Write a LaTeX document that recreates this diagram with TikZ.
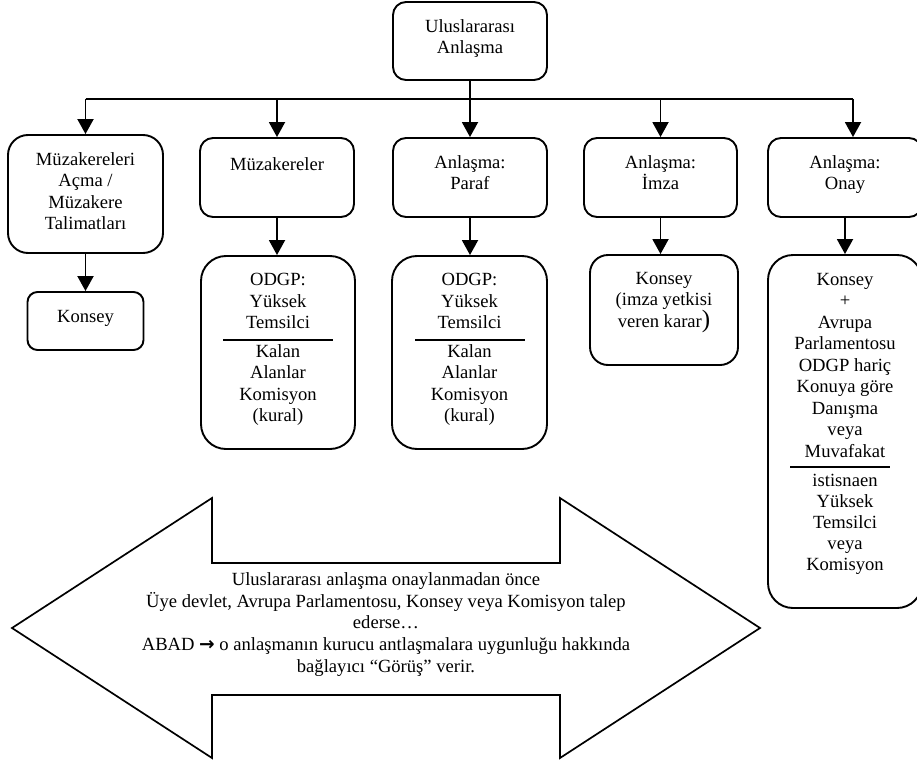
\documentclass[tikz,border=0pt]{standalone}
\usepackage{fontspec}
\setmainfont{Liberation Serif}
\newfontfamily\symf{DejaVu Sans}
\usetikzlibrary{arrows.meta}
\begin{document}
\begin{tikzpicture}[x=1pt,y=-1pt,
  box/.style={draw,line width=1.9pt,rectangle,inner sep=0pt},
  txt/.style={font=\fontsize{18.6}{21.5}\selectfont,align=center,inner sep=0pt,anchor=north,execute at begin node=\rule{0pt}{15pt}},
  conn/.style={line width=1.9pt},
  arr/.style={conn,-{Triangle[width=16pt,length=15pt]}}]
\useasboundingbox (0,0) rectangle (917,765);
\clip (0,0) rectangle (917,765);
% boxes
\node[box,rounded corners=13pt,minimum width=154pt,minimum height=78pt] (top) at (470,41) {};
\node[box,rounded corners=20pt,minimum width=155pt,minimum height=118pt] (r1a) at (85.5,194) {};
\node[box,rounded corners=13pt,minimum width=154pt,minimum height=79pt] (r1b) at (277,177.5) {};
\node[box,rounded corners=13pt,minimum width=154pt,minimum height=79pt] (r1c) at (470,177.5) {};
\node[box,rounded corners=13pt,minimum width=153pt,minimum height=79pt] (r1d) at (660.5,177.5) {};
\node[box,rounded corners=13pt,minimum width=154pt,minimum height=79pt] (r1e) at (845,177.5) {};
\node[box,rounded corners=10pt,minimum width=116pt,minimum height=58pt] (r2a) at (85.5,321) {};
\node[box,rounded corners=25pt,minimum width=154pt,minimum height=193pt] (r2b) at (278,352.5) {};
\node[box,rounded corners=25pt,minimum width=155pt,minimum height=193pt] (r2c) at (469.5,352.5) {};
\node[box,rounded corners=18pt,minimum width=148pt,minimum height=110pt] (r2d) at (664,310) {};
\node[box,rounded corners=25pt,minimum width=154pt,minimum height=353pt] (r2e) at (845,431.5) {};
% texts
\node[txt] (ttop) at (470,19) {Uluslararası\\Anlaşma};
\node[txt] (t1a) at (85.5,152) {Müzakereleri\\Açma /\\Müzakere\\Talimatları};
\node[txt] (t1b) at (277,155) {Müzakereler};
\node[txt] (t1c) at (470,155) {Anlaşma:\\Paraf};
\node[txt] (t1d) at (660.5,155) {Anlaşma:\\İmza};
\node[txt] (t1e) at (845,155) {Anlaşma:\\Onay};
\node[txt] (t2a) at (85.5,307) {Konsey};
\node[txt] (t2b1) at (278,273) {ODGP:\\Yüksek\\Temsilci};
\node[txt] (t2b2) at (278,344) {Kalan\\Alanlar\\Komisyon\\(kural)};
\node[txt] (t2c1) at (469.5,273) {ODGP:\\Yüksek\\Temsilci};
\node[txt] (t2c2) at (469.5,344) {Kalan\\Alanlar\\Komisyon\\(kural)};
\node[txt] (t2d) at (664,272) {Konsey\\(imza yetkisi\\veren karar{\fontsize{25}{25}\selectfont )}};
\node[txt] (t2e1) at (845,273) {Konsey\\+\\Avrupa\\Parlamentosu\\ODGP hariç\\Konuya göre\\Danışma\\veya\\Muvafakat};
\node[txt,font=\fontsize{18.6}{21}\selectfont] (t2e2) at (845,474) {istisnaen\\Yüksek\\Temsilci\\veya\\Komisyon};
% separator rules
\draw[conn] (223,340) -- (333,340);
\draw[conn] (415,340) -- (525,340);
\draw[conn] (790,467) -- (890,467);
% connectors
\coordinate (bus) at (470,99);
\draw[conn] (top.south) -- (bus);
\draw[conn] (r1a.north |- bus) -- ([xshift=8pt]r1e.north |- bus);
\draw[arr] (r1a.north |- bus) -- (r1a.north);
\draw[arr] (r1b.north |- bus) -- (r1b.north);
\draw[arr] (r1c.north |- bus) -- (r1c.north);
\draw[arr] (r1d.north |- bus) -- (r1d.north);
\draw[arr] ([xshift=8pt]r1e.north |- bus) -- ([xshift=8pt]r1e.north);
\draw[arr] (r1a.south) -- (r1a.south |- r2a.north);
\draw[arr] (r1b.south) -- (r1b.south |- r2b.north);
\draw[arr] (r1c.south) -- (r1c.south |- r2c.north);
\draw[arr] (r1d.south) -- (r1d.south |- r2d.north);
\draw[arr] (r1e.south) -- (r1e.south |- r2e.north);
% big double arrow
\draw[line width=1.7pt,line join=miter] (12,628) -- (212,498) -- (212,563) -- (560,563) -- (560,498) -- (760,628) -- (560,758) -- (560,695) -- (212,695) -- (212,758) -- cycle;
\node[font=\fontsize{18.6}{21.8}\selectfont,align=center,inner sep=0pt] (abad) at (386,624.5) {Uluslararası anlaşma onaylanmadan önce\\Üye devlet, Avrupa Parlamentosu, Konsey veya Komisyon talep\\ederse…\\ABAD {\symf\bfseries →} o anlaşmanın kurucu antlaşmalara uygunluğu hakkında\\bağlayıcı “Görüş” verir.};
\end{tikzpicture}
\end{document}
